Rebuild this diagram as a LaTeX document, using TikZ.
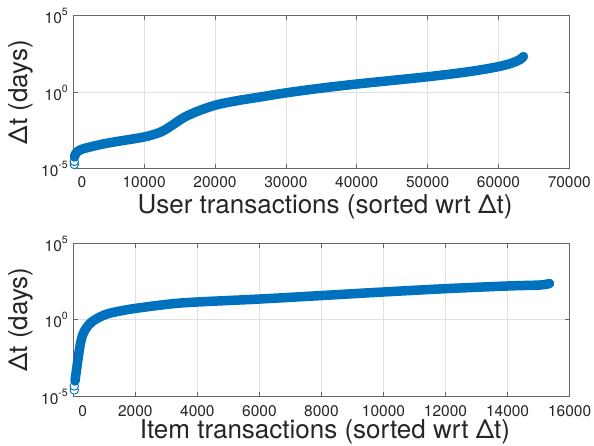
\documentclass[tikz,border=0pt]{standalone}
\usepackage{fontspec}
\setmainfont{TeX Gyre Heros}
\definecolor{mblue}{RGB}{0,114,189}
\newcommand\tenpow[1]{10\raisebox{8pt}{\fontsize{10.5}{10.5}\selectfont #1}}
\begin{document}
\begin{tikzpicture}[x=1pt,y=-1pt,
  axbox/.style={draw=black!60,line width=0.7pt},
  gridln/.style={draw=black!12,line width=0.7pt},
  tickln/.style={draw=black!60,line width=0.7pt},
  ticklab/.style={font=\fontsize{15.5}{15.5}\selectfont,text=black!85,inner sep=0pt},
  axlab/.style={font=\fontsize{26}{26}\selectfont,text=black!85,inner sep=0pt},
  band/.style={draw=mblue,line width=9.5pt,line cap=round,line join=round},
  mk/.style={draw=mblue,line width=0.9pt,fill=white}]
\useasboundingbox[fill=white] (0,0) rectangle (594,445);

% ---------------- top axes ----------------
\foreach \k in {1,...,6} \draw[gridln] ({73.3+\k*70.857},15.7) -- ({73.3+\k*70.857},168.5);
\draw[gridln] (73.3,92.1) -- (569.3,92.1);
\draw[axbox] (73.3,15.7) rectangle (569.3,168.5);
\foreach \k in {0,...,7} {
  \draw[tickln] ({73.3+\k*70.857},168.5) -- ++(0,-4.5);
  \draw[tickln] ({73.3+\k*70.857},15.7) -- ++(0,4.5);
}
\foreach \y in {15.7,92.1,168.5} {
  \draw[tickln] (73.3,\y) -- ++(4.5,0);
  \draw[tickln] (569.3,\y) -- ++(-4.5,0);
}
\node[ticklab,anchor=base] (ta0) at (82,187.5) {0};
\foreach \v/\k in {10000/1,20000/2,30000/3,40000/4,50000/5,60000/6,70000/7}
  \node[ticklab,anchor=base] (ta\k) at ({73.3+\k*70.857},187.5) {\v};
\node[ticklab,anchor=base east] (tya) at (68,23.7) {\tenpow{5}};
\node[ticklab,anchor=base east] (tyb) at (68,100.1) {\tenpow{0}};
\node[ticklab,anchor=base east] (tyc) at (68,176.5) {\tenpow{-5}};
\node[axlab,anchor=base] (xla) at (325,213) {User transactions (sorted wrt Δt)};
\node[axlab,rotate=90,anchor=base] (yla) at (27.5,92.1) {Δt (days)};

\draw[mk] (74.3,164.5) circle (4.2);
\draw[mk] (74.3,161.5) circle (4.2);
\draw[band] plot[smooth,tension=0.55] coordinates {
 (74.5,157) (76,153) (79,150.5) (86,148) (103,144) (120,141) (144,137)
 (160,132.3) (170,126.7) (183,118) (197,111.5) (216,105) (237,100.7)
 (257,97.5) (287,92.7) (320,88.3) (357,84) (428,76.7) (470,71.5)
 (498,66.7) (512,63) (520,59.5) (523.5,56.5)};

% ---------------- bottom axes ----------------
\foreach \k in {1,...,7} \draw[gridln] ({73.3+\k*62.0375},243.3) -- ({73.3+\k*62.0375},396);
\draw[gridln] (73.3,319.65) -- (569.6,319.65);
\draw[axbox] (73.3,243.3) rectangle (569.6,396);
\foreach \k in {0,...,8} {
  \draw[tickln] ({73.3+\k*62.0375},396) -- ++(0,-4.5);
  \draw[tickln] ({73.3+\k*62.0375},243.3) -- ++(0,4.5);
}
\foreach \y in {243.3,319.65,396} {
  \draw[tickln] (73.3,\y) -- ++(4.5,0);
  \draw[tickln] (569.6,\y) -- ++(-4.5,0);
}
\node[ticklab,anchor=base] (tb0) at (82.7,416) {0};
\foreach \v/\k in {2000/1,4000/2,6000/3,8000/4,10000/5,12000/6,14000/7,16000/8}
  \node[ticklab,anchor=base] (tb\k) at ({73.3+\k*62.0375},416) {\v};
\node[ticklab,anchor=base east] (tyd) at (68,251.3) {\tenpow{5}};
\node[ticklab,anchor=base east] (tye) at (68,327.65) {\tenpow{0}};
\node[ticklab,anchor=base east] (tyf) at (68,404) {\tenpow{-5}};
\node[axlab,anchor=base] (xlb) at (325,438.5) {Item transactions (sorted wrt Δt)};
\node[axlab,rotate=90,anchor=base] (ylb) at (27.5,319.65) {Δt (days)};

\draw[mk] (74.3,390) circle (4.2);
\draw[mk] (74.3,386) circle (4.2);
\draw[band] plot[smooth,tension=0.55] coordinates {
 (75,381) (76.5,370) (78.3,357) (80,346) (82,337) (85,330) (90,323.5)
 (97,318.5) (107,314) (120,311) (136,308.3) (170,304) (197,302)
 (260,299) (322,295.5) (383,292) (445,288.7) (507,286) (540,285) (549.5,283.5)};
\end{tikzpicture}
\end{document}
